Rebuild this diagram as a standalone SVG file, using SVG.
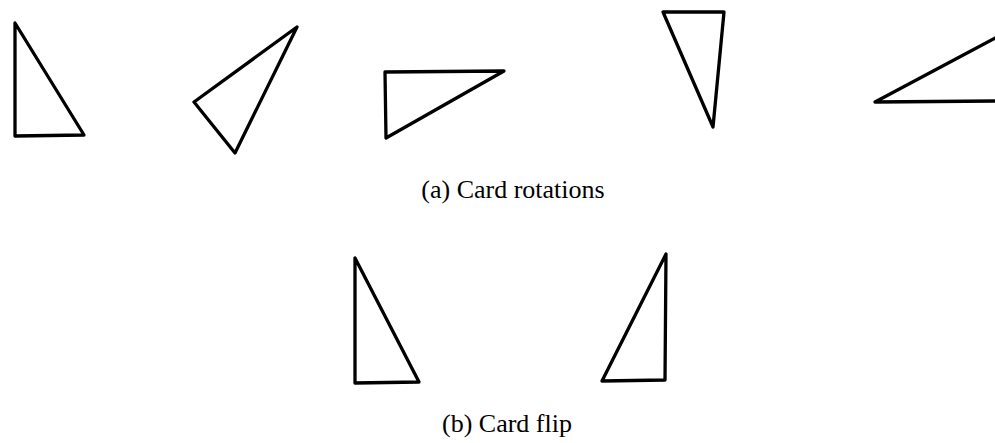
<svg xmlns="http://www.w3.org/2000/svg" width="995" height="443" viewBox="0 0 995 443">
<style>
.tri{fill:none;stroke:#000;stroke-width:3.3;stroke-linejoin:round}
.cap{font-family:"Liberation Serif",serif;font-size:26px;fill:#000;text-anchor:middle}
</style>
<rect width="995" height="443" fill="#fff"/>
<g id="rot1"><polygon class="tri" points="15,23 15,136 84,135"/></g>
<g id="rot2"><polygon class="tri" points="297,27 194,102 235,153"/></g>
<g id="rot3"><polygon class="tri" points="385,72 504,71 386,138"/></g>
<g id="rot4"><polygon class="tri" points="663,12 724,12 713,127"/></g>
<g id="rot5"><polygon class="tri" points="875,102 997,37 997,101"/></g>
<text class="cap" x="513" y="198">(a) Card rotations</text>
<g id="flip1"><polygon class="tri" points="355,258 355,383 419,382"/></g>
<g id="flip2"><polygon class="tri" points="666,254 665,380 602,381"/></g>
<text class="cap" x="507" y="432">(b) Card flip</text>
</svg>
